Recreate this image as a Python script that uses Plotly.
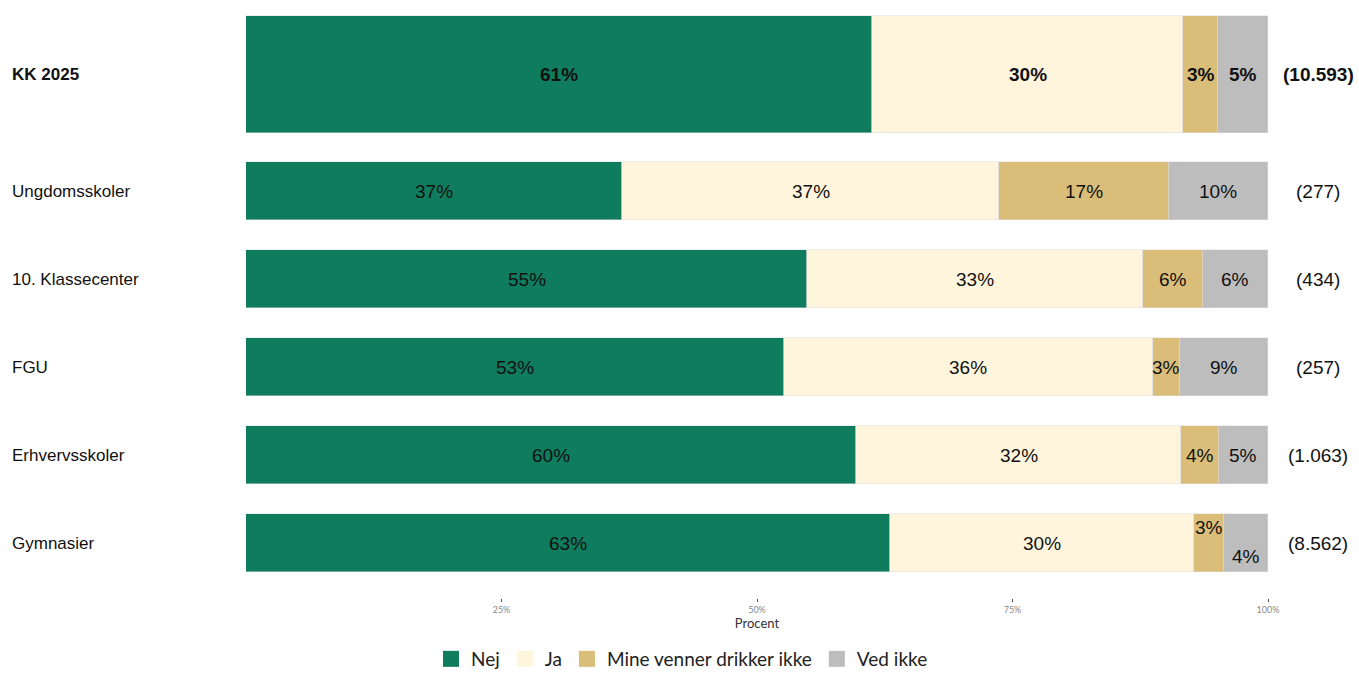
import plotly.graph_objects as go

categories = ["KK 2025", "Ungdomsskoler", "10. Klassecenter", "FGU", "Erhvervsskoler", "Gymnasier"]
counts = ["(10.593)", "(277)", "(434)", "(257)", "(1.063)", "(8.562)"]
series_names = ["Nej", "Ja", "Mine venner drikker ikke", "Ved ikke"]
nej = [61.3, 36.8, 54.9, 52.6, 59.7, 63.0]
ja = [30.4, 36.9, 32.9, 36.1, 31.8, 29.8]
mine = [3.4, 16.6, 5.8, 2.7, 3.7, 2.9]
vedikke = [4.9, 9.7, 6.4, 8.6, 4.8, 4.3]
tick_vals = [25, 50, 75, 100]
tick_text = ["25%", "50%", "75%", "100%"]

# layout (pixel-like y units)
row_pos = [74.5, 191, 279, 367, 455, 543]
row_width = [117, 58, 58, 58, 58, 58]
colors = ["#0E7C5D", "#FEF5DC", "#DABD78", "#BDBDBD"]
# vertical offset of labels for crowded segments (Gymnasier)
label_dy = {(5, 2): -16, (5, 3): 13}

series = [nej, ja, mine, vedikke]
fig = go.Figure()
for name, vals, col in zip(series_names, series, colors):
    fig.add_trace(go.Bar(
        y=row_pos, x=vals, width=row_width, orientation="h", name=name,
        marker=dict(color=col, line=dict(color="rgba(220,220,220,0.8)", width=0.6)),
        hoverinfo="x+name", showlegend=False, legendgroup=name,
    ))
# legend entries with larger square keys
for name, col in zip(series_names, colors):
    fig.add_trace(go.Scatter(
        x=[None], y=[None], mode="markers", name=name, legendgroup=name,
        marker=dict(symbol="square", size=18, color=col),
    ))

annotations = []
for i in range(len(categories)):
    cum = 0
    for s, vals in enumerate(series):
        v = vals[i]
        center = cum + v / 2
        cum += v
        bold = i == 0
        txt = f"{int(v + 0.5):d}%"
        if bold:
            txt = f"<b>{txt}</b>"
        annotations.append(dict(
            x=center, y=row_pos[i] + label_dy.get((i, s), 0), xref="x", yref="y",
            text=txt, showarrow=False,
            font=dict(family="Liberation Sans, Arial", size=19, color="#111"),
        ))
    cat = f"<b>{categories[i]}</b>" if i == 0 else categories[i]
    annotations.append(dict(
        x=(10 - 246) / 1022, y=row_pos[i], xref="paper", yref="y", xanchor="left",
        text=cat, showarrow=False,
        font=dict(family="Liberation Sans, Arial", size=17, color="#111"),
    ))
    cnt = f"<b>{counts[i]}</b>" if i == 0 else counts[i]
    annotations.append(dict(
        x=(1318 - 246) / 1022, y=row_pos[i], xref="paper", yref="y", xanchor="center",
        text=cnt, showarrow=False,
        font=dict(family="Liberation Sans, Arial", size=19, color="#111"),
    ))

fig.update_layout(
    barmode="stack",
    width=1359, height=673,
    margin=dict(l=246, r=91, t=10, b=75, autoexpand=False),
    plot_bgcolor="white", paper_bgcolor="white",
    bargap=0,
    showlegend=True,
    legend=dict(orientation="h", x=(682 - 246) / 1022, xanchor="center",
                yref="container", y=(673 - 659) / 673, yanchor="middle",
                font=dict(family="Lato, Open Sans", size=19, color="#222"),
                traceorder="normal", itemwidth=30),
    annotations=annotations,
    xaxis=dict(range=[0, 100], tickvals=tick_vals, ticktext=tick_text,
               showgrid=False, zeroline=False, showline=False, automargin=False,
               ticks="outside", ticklen=3, tickcolor="#555", tickwidth=1,
               tickfont=dict(family="Lato, Open Sans", size=9, color="#888"),
               title=dict(text="Procent", standoff=4,
                          font=dict(family="Lato, Open Sans", size=13, color="#333"))),
    yaxis=dict(range=[598, 10], showticklabels=False, showgrid=False,
               zeroline=False, showline=False, automargin=False),
)

fig.write_html(
    "out.html",
    config={"displayModeBar": False},
    post_script="document.body.style.margin='0';document.documentElement.style.overflow='hidden';document.body.style.overflow='hidden';",
)
